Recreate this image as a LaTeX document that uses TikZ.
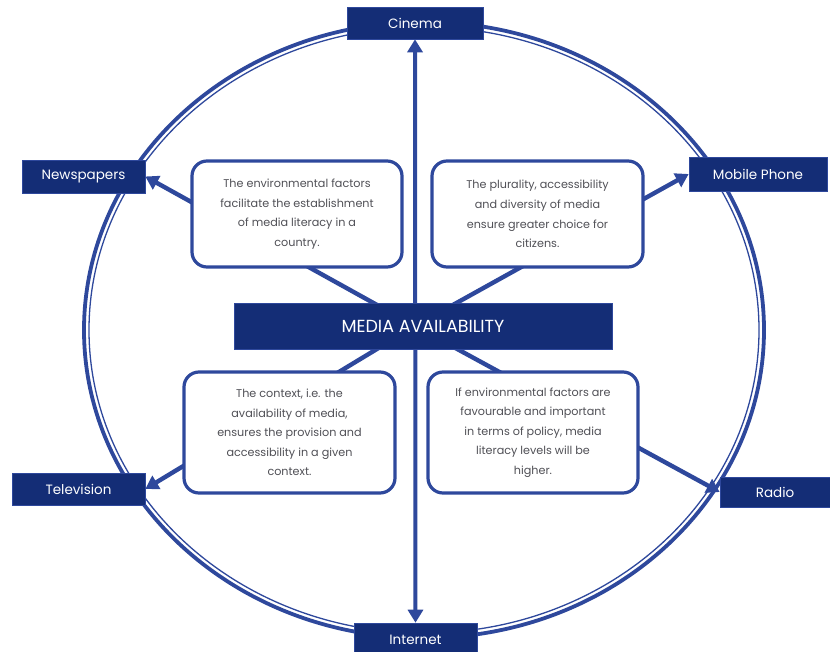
\documentclass[tikz,border=0pt]{standalone}
\usepackage{fontspec}
\setmainfont{Poppins}
\usetikzlibrary{arrows.meta}
\definecolor{navy}{RGB}{20,45,118}
\definecolor{lblue}{RGB}{46,72,156}
\definecolor{txtgray}{RGB}{80,80,86}
\begin{document}
\begin{tikzpicture}[x=1pt,y=-1pt,
  outerbox/.style={fill=navy,draw=lblue,line width=0.6pt,text=white,font=\fontsize{13.5}{15}\selectfont,inner sep=0pt,anchor=center},
  textbox/.style={fill=white,draw=lblue,line width=3.2pt,rounded corners=15pt,text=txtgray,align=center,
     font=\fontsize{11.2}{19.6}\selectfont,inner sep=0pt,anchor=center},
  arr/.style={draw=lblue,line width=4.4pt,-{Triangle[length=13pt,width=15pt]}},
  ring/.style={draw=lblue}]
\useasboundingbox (0,0) rectangle (830,651);
% ring
\draw[ring,line width=3.8pt] (424,330) ellipse [x radius=340pt, y radius=308pt];
\draw[ring,line width=1.3pt] (424,330) ellipse [x radius=335pt, y radius=303pt];
% outer nodes
\node[outerbox,minimum width=136pt,minimum height=32pt] (cin) at (415,23) {Cinema};
\node[outerbox,minimum width=123pt,minimum height=33pt] (news) at (83.5,176.5) {Newspapers};
\node[outerbox,minimum width=138pt,minimum height=34pt] (mob) at (758,174) {Mobile Phone};
\node[outerbox,minimum width=133pt,minimum height=32pt] (tv) at (78.5,489) {Television};
\node[outerbox,minimum width=110pt,minimum height=30pt] (radio) at (775,492) {Radio};
\node[outerbox,minimum width=123pt,minimum height=34pt] (int) at (415.5,640) {Internet};
\coordinate (c) at (415,326);
% connectors
\draw[arr] (c) -- (news.east);
\draw[arr] (c) -- (mob.west);
\draw[arr] (c) -- (tv.east);
\draw[arr] (c) -- (radio.west);
\draw[draw=lblue,line width=4pt,{Triangle[length=13pt,width=15pt]}-{Triangle[length=13pt,width=15pt]}] (cin.south) -- (int.north);
% centre
\node[fill=navy,draw=lblue,line width=0.6pt,text=white,font=\fontsize{17.5}{20}\selectfont,minimum width=378pt,minimum height=46pt,inner sep=0pt] (main) at (423,326) {MEDIA AVAILABILITY};
% text boxes
\node[textbox,minimum width=210pt,minimum height=106pt] (t1) at (297,214)
 {The environmental factors\\facilitate the establishment\\of media literacy in a\\country.};
\node[textbox,minimum width=211pt,minimum height=106pt] (t2) at (537.5,214)
 {The plurality, accessibility\\and diversity of media\\ensure greater choice for\\citizens.};
\node[textbox,minimum width=211pt,minimum height=121pt] (t3) at (289.5,432.5)
 {The context, i.e. the\\availability of media,\\ensures the provision and\\accessibility in a given\\context.};
\node[textbox,minimum width=210pt,minimum height=121pt] (t4) at (533,432.5)
 {If environmental factors are\\favourable and important\\in terms of policy, media\\literacy levels will be\\higher.};
\end{tikzpicture}
\end{document}
